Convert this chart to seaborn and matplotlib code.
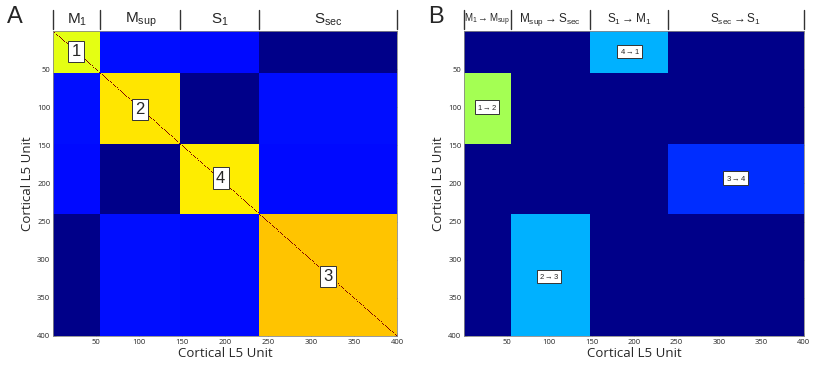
import numpy as np
import matplotlib
matplotlib.use("Agg")
import matplotlib.pyplot as plt
import matplotlib.transforms as mtransforms
import seaborn as sns

# ---------------- data ----------------
block_edges = [0, 55, 148, 240, 400]
group_labels_A = [r"M$_{\rm 1}$", r"M$_{\rm sup}$", r"S$_{\rm 1}$", r"S$_{\rm sec}$"]
group_labels_B = [r"M$_{1}$$\rightarrow$M$_{\rm sup}$", r"M$_{\rm sup}$$\rightarrow$S$_{\rm sec}$",
                  r"S$_{1}$$\rightarrow$M$_{1}$", r"S$_{\rm sec}$$\rightarrow$S$_{1}$"]
# block means (rows = target group, cols = source group), jet scale 0..1
block_values_A = [
    [0.625, 0.14, 0.135, 0.01],
    [0.14, 0.665, 0.01, 0.14],
    [0.135, 0.01, 0.66, 0.135],
    [0.01, 0.14, 0.135, 0.70],
]
diag_value_A = 1.0
block_values_B = [
    [0.00, 0.00, 0.30, 0.00],
    [0.55, 0.00, 0.00, 0.00],
    [0.00, 0.00, 0.00, 0.17],
    [0.00, 0.30, 0.00, 0.00],
]
background_B = 0.01
box_labels_A = ["1", "2", "4", "3"]
box_pos_A = [(27, 27), (101, 103), (195, 193), (320, 322)]
box_labels_B = [r"4$\rightarrow$1", r"1$\rightarrow$2", r"3$\rightarrow$4", r"2$\rightarrow$3"]
box_pos_B = [(195, 27), (27, 100), (320, 193), (100, 322)]
tick_values = [50, 100, 150, 200, 250, 300, 350, 400]


def build(values, diag=None):
    n = block_edges[-1]
    m = np.zeros((n, n))
    for i in range(4):
        for j in range(4):
            m[block_edges[i]:block_edges[i + 1], block_edges[j]:block_edges[j + 1]] = values[i][j]
    if diag is not None:
        np.fill_diagonal(m, diag)
    return m


mat_A = build(block_values_A, diag_value_A)
mat_B = build(block_values_B)
mat_B[mat_B == 0] = background_B

sns.set_style("white")
plt.rcParams["font.family"] = ["Liberation Sans", "DejaVu Sans"]
plt.rcParams["mathtext.fontset"] = "custom"
plt.rcParams["mathtext.rm"] = "Liberation Sans"
plt.rcParams["mathtext.it"] = "Liberation Sans"

fig = plt.figure(figsize=(8.17, 3.68), dpi=100)
axA = fig.add_axes([0.0649, 0.087, 0.4211, 0.8288])
axB = fig.add_axes([0.568, 0.087, 0.416, 0.8288])


def style(ax, mat, header, hsize, boxes, boxpos, bsize, pad):
    sns.heatmap(mat, ax=ax, cmap="jet", vmin=0, vmax=1, cbar=False,
                xticklabels=False, yticklabels=False, rasterized=True)
    ax.set_xticks(tick_values)
    ax.set_yticks(tick_values)
    ax.set_xticklabels([str(t) for t in tick_values], fontsize=5.5, family="Open Sans")
    ax.set_yticklabels([str(t) for t in tick_values], fontsize=5.5, family="Open Sans", rotation=0)
    ax.tick_params(direction="in", length=2.5, width=0.5, color="#555555", pad=2,
                   top=True, right=True, bottom=True, left=True)
    for s in ax.spines.values():
        s.set_visible(True)
        s.set_color("#888888")
        s.set_linewidth(0.6)
    ax.set_xlabel("Cortical L5 Unit", fontsize=9.5, family="Open Sans", labelpad=1)
    ax.set_ylabel("Cortical L5 Unit", fontsize=9.5, family="Open Sans", labelpad=2)
    tr = mtransforms.blended_transform_factory(ax.transData, ax.transAxes)
    for e in block_edges:
        ax.plot([e, e], [1.008, 1.07], transform=tr, color="#333333", lw=1.0, clip_on=False)
    for k, lab in enumerate(header):
        xc = (block_edges[k] + block_edges[k + 1]) / 2
        ax.text(xc, 1.038, lab, transform=tr, ha="center", va="center", fontsize=hsize[k])
    for lab, (x, y) in zip(boxes, boxpos):
        ax.text(x, y, lab, ha="center", va="center", fontsize=bsize,
                bbox=dict(boxstyle=f"square,pad={pad}", fc="white", ec="#333333", lw=0.7))


style(axA, mat_A, group_labels_A, [11, 11, 11, 11], box_labels_A, box_pos_A, 12, 0.2)
style(axB, mat_B, group_labels_B, [7.0, 8.5, 8.5, 8.5], box_labels_B, box_pos_B, 5.5, 0.3)

fig.text(0.008, 0.955, "A", fontsize=17, va="center", ha="left")
fig.text(0.524, 0.955, "B", fontsize=17, va="center", ha="left")

fig.savefig("out.png", dpi=100)
